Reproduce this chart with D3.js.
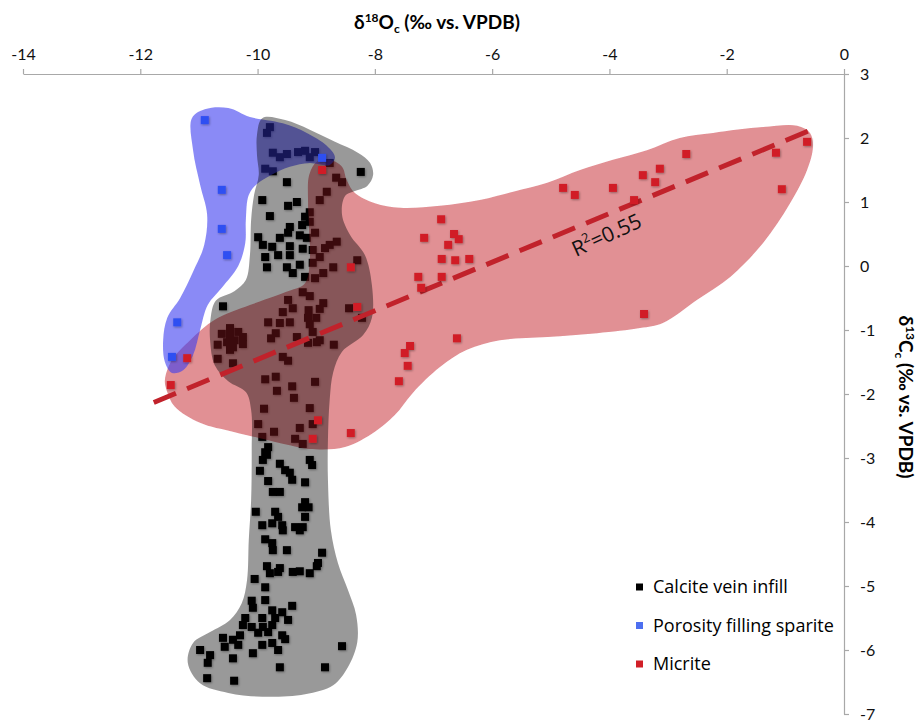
<!DOCTYPE html>
<html>
<head>
<meta charset="utf-8">
<script src="https://cdn.jsdelivr.net/npm/d3@7"></script>
<style>
body { margin: 0; background: #fff; }
svg { display: block; }
.axis text { font-family: Lato, sans-serif; font-size: 16px; fill: #111; }
.axis path, .axis line { stroke: #a8a8a8; stroke-width: 1.2; }
.title { font-family: Lato, sans-serif; font-size: 19px; font-weight: bold; fill: #000; }
.legend { font-family: "Open Sans", sans-serif; font-size: 18px; fill: #000; }
.r2 { font-family: "Open Sans", sans-serif; font-size: 21px; fill: #111; }
</style>
</head>
<body>
<svg width="917" height="721"></svg>
<script>
// d18O, d13C pairs (per mil vs VPDB)
const calcite = [
    [-9.79,2.17],[-9.84,2.08],[-9.74,1.77],[-9.62,1.70],[-9.50,1.75],[-9.31,1.78],[-9.19,1.80],[-9.02,1.78],[-9.11,1.70],
    [-9.87,1.52],[-9.74,1.48],[-8.77,1.61],[-8.24,1.47],[-8.66,1.38],[-8.56,1.31],[-9.50,1.31],[-8.82,1.16],
    [-9.92,1.03],[-9.33,1.00],[-9.48,0.94],[-8.94,1.03],[-9.79,0.78],[-9.11,0.84],[-9.19,0.77],[-9.11,0.69],
    [-9.24,0.64],[-9.45,0.61],[-9.02,0.52],[-9.28,0.48],[-9.16,0.44],[-9.48,0.52],[-9.99,0.45],[-9.62,0.44],
    [-9.91,0.33],[-9.75,0.30],[-9.45,0.31],[-8.65,0.38],[-8.77,0.33],[-8.85,0.28],[-9.23,0.27],[-9.06,0.25],
    [-9.87,0.14],[-9.65,0.17],[-9.45,0.17],[-8.94,0.14],[-9.84,-0.02],[-9.50,-0.02],[-9.28,0.02],[-9.06,0.05],
    [-9.40,-0.11],[-9.19,-0.17],[-8.88,-0.11],[-8.71,-0.02],[-8.30,0.09],[-9.02,-0.19],
    [-10.59,-0.63],[-9.48,-0.53],[-9.23,-0.41],[-9.11,-0.47],[-8.88,-0.58],[-9.40,-0.66],[-9.57,-0.72],[-9.13,-0.69],
    [-8.94,-0.67],[-9.00,-0.81],[-9.14,-0.81],[-8.44,-0.66],[-8.22,-0.81],[-9.82,-0.88],[-9.62,-0.89],[-9.45,-0.88],
    [-9.11,-0.91],[-10.47,-0.97],[-10.33,-1.03],[-10.61,-1.06],[-10.47,-1.08],[-10.25,-1.11],[-10.39,-1.16],
    [-10.52,-1.19],[-10.25,-1.22],[-10.42,-1.27],[-10.68,-1.23],[-10.47,-1.31],[-9.69,-1.05],[-9.77,-1.13],
    [-9.33,-1.11],[-9.06,-1.03],[-8.99,-1.19],[-9.14,-1.20],[-8.94,-1.16],[-8.70,-1.23],[-10.68,-1.45],[-10.42,-1.52],
    [-9.57,-1.42],[-9.48,-1.48],[-9.87,-1.77],[-9.69,-1.73],[-9.41,-1.88],[-9.02,-1.81],[-9.67,-1.95],[-9.38,-2.06],
    [-9.89,-2.23],[-9.11,-2.22],[-9.99,-2.47],[-9.72,-2.59],[-9.28,-2.53],[-9.06,-2.47],[-9.92,-2.67],[-9.36,-2.70],
    [-9.23,-2.78],[-9.82,-2.83],[-9.87,-2.91],
    [-9.84,-2.95],[-9.91,-3.03],[-9.62,-3.09],[-9.53,-3.19],[-9.11,-3.03],[-9.07,-3.11],[-9.96,-3.20],[-9.45,-3.23],
    [-9.41,-3.34],[-9.82,-3.36],[-9.19,-3.38],[-9.74,-3.53],[-9.62,-3.53],[-9.19,-3.69],[-9.13,-3.77],[-9.24,-3.77],
    [-10.03,-3.84],[-9.70,-3.84],[-9.65,-3.92],[-9.19,-3.92],[-9.92,-4.05],[-9.75,-4.02],[-9.58,-4.05],[-9.57,-4.13],
    [-9.36,-4.08],[-9.23,-4.08],[-9.28,-4.13],[-9.87,-4.27],[-9.75,-4.33],[-9.74,-4.44],[-9.50,-4.44],[-8.90,-4.48],
    [-8.97,-4.64],[-9.84,-4.69],[-9.62,-4.72],
    [-9.79,-4.80],[-9.65,-4.78],[-9.40,-4.78],[-9.28,-4.77],[-9.11,-4.80],[-8.99,-4.69],[-10.05,-4.89],[-9.87,-5.02],
    [-9.87,-5.22],[-10.10,-5.23],[-10.08,-5.34],[-9.41,-5.31],[-9.75,-5.38],[-9.58,-5.41],[-10.21,-5.50],[-9.92,-5.50],
    [-9.70,-5.50],[-9.48,-5.53],[-10.25,-5.61],[-10.10,-5.64],[-9.91,-5.64],[-9.75,-5.61],[-10.30,-5.77],[-9.99,-5.73],
    [-9.82,-5.72],[-9.58,-5.77],[-10.59,-5.81],[-10.42,-5.84],[-9.53,-5.83],[-10.56,-5.95],[-10.33,-5.92],[-9.92,-5.92],
    [-9.75,-5.89],[-10.98,-6.00],[-10.81,-6.08],[-10.08,-6.05],[-9.65,-6.00],[-10.42,-6.13],[-10.85,-6.20],[-8.56,-5.94],
    [-9.62,-6.27],[-8.85,-6.27],[-10.86,-6.44],[-10.40,-6.48]
]

const sparite = [
    [-10.90,2.28],[-10.61,1.19],[-10.61,0.58],[-10.52,0.17],[-8.90,1.69],[-11.37,-0.88],[-11.46,-1.42]
]

const micrite = [
    [-0.63,1.94],[-1.16,1.77],[-1.06,1.20],[-2.69,1.75],[-3.14,1.52],[-3.43,1.42],[-3.22,1.31],[-3.94,1.22],
    [-4.79,1.22],[-4.59,1.11],[-3.58,1.03],[-6.87,0.73],[-7.16,0.44],[-6.65,0.50],[-6.57,0.42],[-6.75,0.33],
    [-6.86,0.11],[-6.63,0.09],[-6.39,0.11],[-7.26,-0.17],[-6.86,-0.17],[-7.21,-0.34],[-3.41,-0.75],[-6.60,-1.13],
    [-7.40,-1.25],[-7.49,-1.36],[-7.44,-1.56],[-7.59,-1.80],[-8.90,1.50],[-8.41,-0.02],[-8.30,-0.64],[-11.20,-1.44],
    [-11.48,-1.86],[-8.97,-2.41],[-9.06,-2.70],[-8.41,-2.61]
]

// hand drawn envelopes around each group
const calciteEnvelope = [
    [-9.92,2.31],[-9.53,2.28],[-9.11,2.13],[-8.68,1.94],[-8.29,1.77],[-8.08,1.61],[-8.03,1.42],[-8.13,1.25],
    [-8.34,1.17],[-8.51,1.09],[-8.56,0.80],[-8.42,0.48],[-8.17,0.17],[-8.05,-0.30],[-8.05,-0.81],[-8.20,-1.08],
    [-8.56,-1.34],[-8.71,-1.66],[-8.77,-2.09],[-8.80,-2.72],[-8.80,-3.34],[-8.75,-4.13],[-8.63,-4.64],[-8.46,-5.06],
    [-8.32,-5.45],[-8.30,-5.88],[-8.46,-6.27],[-8.71,-6.55],[-9.19,-6.69],[-9.92,-6.73],[-10.50,-6.67],[-10.98,-6.52],
    [-11.19,-6.20],[-11.10,-5.89],[-10.81,-5.72],[-10.47,-5.53],[-10.27,-5.27],[-10.18,-4.91],[-10.15,-4.28],
    [-10.11,-3.66],[-10.10,-2.88],[-10.11,-2.25],[-10.20,-1.97],[-10.50,-1.80],[-10.73,-1.55],[-10.81,-1.16],
    [-10.80,-0.81],[-10.71,-0.54],[-10.39,-0.39],[-10.20,-0.22],[-10.13,0.17],[-10.11,0.72],[-10.06,1.11],
    [-9.98,1.42],[-10.01,1.73],[-10.01,2.05]
]

const spariteEnvelope = [
    [-11.12,2.31],[-10.90,2.45],[-10.50,2.47],[-10.13,2.33],[-9.57,2.23],[-9.16,2.08],[-8.82,1.88],[-8.68,1.70],
    [-8.77,1.58],[-9.11,1.61],[-9.45,1.55],[-9.79,1.41],[-10.01,1.28],[-10.15,1.11],[-10.20,0.72],[-10.21,0.36],
    [-10.33,0.00],[-10.61,-0.34],[-10.85,-0.61],[-10.98,-1.00],[-11.10,-1.39],[-11.27,-1.63],[-11.46,-1.67],
    [-11.58,-1.50],[-11.61,-1.16],[-11.54,-0.81],[-11.32,-0.50],[-11.10,-0.09],[-10.91,0.33],[-10.86,0.80],
    [-10.98,1.27],[-11.10,1.81]
]

const micriteEnvelope = [
    [-11.58,-1.78],[-11.46,-1.47],[-11.15,-1.16],[-10.73,-0.84],[-10.13,-0.61],[-9.53,-0.41],[-9.19,-0.27],
    [-9.11,0.09],[-9.12,0.56],[-9.14,1.03],[-9.12,1.42],[-8.99,1.63],[-8.77,1.66],[-8.56,1.55],[-8.48,1.34],
    [-8.34,1.14],[-8.00,0.98],[-7.57,0.91],[-6.89,0.94],[-6.21,1.03],[-5.64,1.16],[-5.06,1.30],[-4.50,1.50],
    [-3.94,1.66],[-3.36,1.81],[-2.80,2.00],[-2.23,2.08],[-1.38,2.17],[-0.80,2.19],[-0.58,2.08],[-0.53,1.86],
    [-0.63,1.50],[-0.92,0.98],[-1.38,0.36],[-1.94,-0.17],[-2.51,-0.53],[-3.09,-0.89],[-3.48,-0.97],[-4.21,-1.05],
    [-5.06,-1.11],[-5.87,-1.16],[-6.43,-1.31],[-6.89,-1.58],[-7.35,-1.98],[-7.66,-2.33],[-8.00,-2.59],[-8.51,-2.83],
    [-9.11,-2.86],[-9.45,-2.80],[-9.96,-2.69],[-10.42,-2.59],[-10.98,-2.45],[-11.41,-2.20],[-11.55,-1.94]
]

// micrite linear fit
const fitSlope = 0.38
const fitIntercept = 2.34
const fitRange = [-11.77, -0.44]
const fitLabel = "=0.55"

const xTicks = [-14, -12, -10, -8, -6, -4, -2, 0]
const yTicks = [3, 2, 1, 0, -1, -2, -3, -4, -5, -6, -7]
const legendNames = ["Calcite vein infill", "Porosity filling sparite", "Micrite"]
const legendColors = ["#000000", "#4d6ff0", "#d11f27"]

const svg = d3.select("svg")

const xScale = d3.scaleLinear()
    .domain([-14, 0])
    .range([23, 844])

const yScale = d3.scaleLinear()
    .domain([-7, 3])
    .range([714, 74])

const defs = svg.append("defs")
defs.append("filter")
    .attr("id", "shadow")
    .attr("x", "-50%").attr("y", "-50%").attr("width", "200%").attr("height", "200%")
    .append("feDropShadow")
    .attr("dx", 0.8)
    .attr("dy", 1)
    .attr("stdDeviation", 1)
    .attr("flood-color", "#000")
    .attr("flood-opacity", 0.35)
defs.append("filter")
    .attr("id", "soft")
    .append("feGaussianBlur")
    .attr("stdDeviation", 0.7)

const blob = d3.line()
    .x((d,i)=>{return xScale(d[0])})
    .y((d,i)=>{return yScale(d[1])})
    .curve(d3.curveCatmullRomClosed.alpha(0.5))

const markerSize = 8

function drawPoints(data, color) {
    svg.append("g")
        .attr("filter", "url(#shadow)")
        .selectAll("rect")
        .data(data)
        .enter()
        .append("rect")
        .attr("x", (d,i)=>{return xScale(d[0]) - markerSize/2})
        .attr("y", (d,i)=>{return yScale(d[1]) - markerSize/2})
        .attr("width", markerSize)
        .attr("height", markerSize)
        .attr("fill", color)
}

// black points sit below the tinted envelopes
drawPoints(calcite, "#000")

svg.append("path")
    .datum(micriteEnvelope)
    .attr("d", blob)
    .attr("fill", "rgba(195,30,40,0.5)")
    .attr("filter", "url(#soft)")

svg.append("path")
    .datum(spariteEnvelope)
    .attr("d", blob)
    .attr("fill", "rgba(60,60,240,0.6)")
    .attr("filter", "url(#soft)")

svg.append("path")
    .datum(calciteEnvelope)
    .attr("d", blob)
    .attr("fill", "rgba(0,0,0,0.4)")
    .attr("filter", "url(#soft)")

svg.append("line")
    .attr("x1", xScale(fitRange[0]))
    .attr("y1", yScale(fitSlope * fitRange[0] + fitIntercept))
    .attr("x2", xScale(fitRange[1]))
    .attr("y2", yScale(fitSlope * fitRange[1] + fitIntercept))
    .attr("stroke", "#c1222b")
    .attr("stroke-width", 5)
    .attr("stroke-dasharray", "24 12")

drawPoints(sparite, "#2f4ff2")
drawPoints(micrite, "#d11f27")

// R2 label under the fit line
const angle = Math.atan2(
    yScale(fitSlope * fitRange[1] + fitIntercept) - yScale(fitSlope * fitRange[0] + fitIntercept),
    xScale(fitRange[1]) - xScale(fitRange[0])) * 180 / Math.PI
const r2 = svg.append("text")
    .attr("class", "r2")
    .attr("transform", `translate(${xScale(-4.57)},${yScale(0.14)}) rotate(${angle - 2})`)
r2.append("tspan").text("R")
r2.append("tspan").attr("font-size", 13).attr("dy", -9).text("2")
r2.append("tspan").attr("dy", 9).text(fitLabel)

// axes
const xAxis = d3.axisTop(xScale)
    .tickValues(xTicks)
    .tickSize(5)
    .tickSizeOuter(0)
    .tickPadding(9)
    .tickFormat((d)=>{return String(d)})

svg.append("g")
    .attr("class", "axis")
    .attr("transform", `translate(0, ${yScale(3)})`)
    .call(xAxis)

const yAxis = d3.axisRight(yScale)
    .tickValues(yTicks)
    .tickSize(5)
    .tickSizeOuter(0)
    .tickPadding(11)
    .tickFormat((d)=>{return String(d)})

svg.append("g")
    .attr("class", "axis")
    .attr("transform", `translate(${xScale(0)}, 0)`)
    .call(yAxis)

svg.selectAll(".axis .domain").attr("stroke", "#a8a8a8")

// axis titles
const xTitle = svg.append("text")
    .attr("class", "title")
    .attr("x", 437)
    .attr("y", 29)
    .attr("text-anchor", "middle")
xTitle.append("tspan").text("δ")
xTitle.append("tspan").attr("font-size", 12).attr("dy", -7).text("18")
xTitle.append("tspan").attr("dy", 7).text("O")
xTitle.append("tspan").attr("font-size", 12).attr("dy", 4).text("c")
xTitle.append("tspan").attr("dy", -4).text(" (‰ vs. VPDB)")

const yTitle = svg.append("text")
    .attr("class", "title")
    .attr("transform", "translate(899, 397) rotate(90)")
    .attr("text-anchor", "middle")
yTitle.append("tspan").text("δ")
yTitle.append("tspan").attr("font-size", 12).attr("dy", -7).text("13")
yTitle.append("tspan").attr("dy", 7).text("C")
yTitle.append("tspan").attr("font-size", 12).attr("dy", 4).text("c")
yTitle.append("tspan").attr("dy", -4).text(" (‰ vs. VPDB)")

// legend
const legend = svg.selectAll("g.legend-item")
    .data(legendNames)
    .enter()
    .append("g")
    .attr("class", "legend-item")
    .attr("transform", (d,i)=>{return `translate(636, ${587 + i*38.5})`})

legend.append("rect")
    .attr("x", 0)
    .attr("y", -3.5)
    .attr("width", 7)
    .attr("height", 7)
    .attr("fill", (d,i)=>{return legendColors[i]})

legend.append("text")
    .attr("class", "legend")
    .attr("x", 17)
    .attr("dy", "0.36em")
    .text((d,i)=>{return d})
</script>
</body>
</html>
